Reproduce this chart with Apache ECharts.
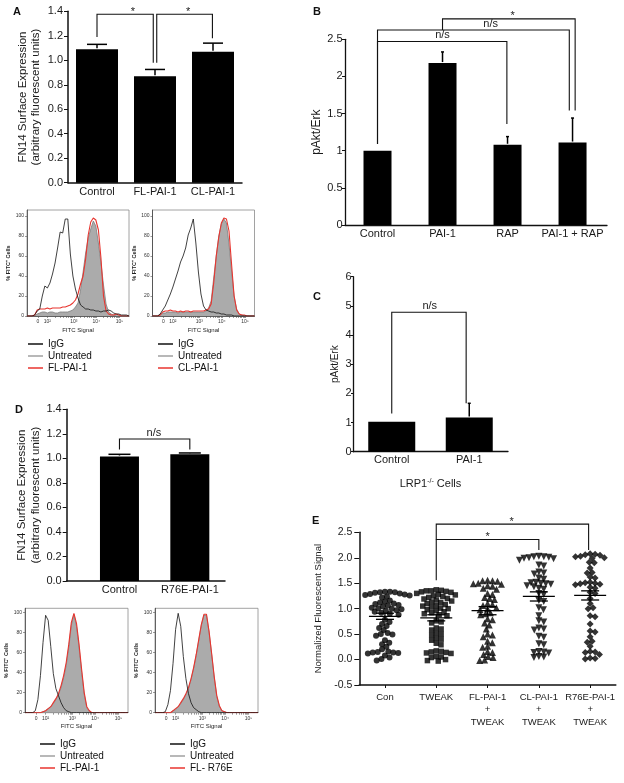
<!DOCTYPE html>
<html>
<head>
<meta charset="utf-8">
<title>FN14 surface expression / pAkt figure</title>
<script src="https://cdn.jsdelivr.net/npm/echarts@6/dist/echarts.min.js"></script>
<style>
  html, body { margin: 0; padding: 0; background: #fff; }
  #chart { width: 624px; height: 783px; }
</style>
</head>
<body>
<div id="chart"></div>
<script>
const FONT = '"Liberation Sans", Arial, sans-serif';
const INK = '#111';

// ---- panel A: FN14 bars ----
const aCats = ['Control', 'FL-PAI-1', 'CL-PAI-1'];
const aMeans = [1.09, 0.87, 1.07];
const aErrs = [0.04, 0.055, 0.07];
// [x1, x2, top, leftEnd, rightEnd, label, labelX]
const aSig = [[0, 0.97, 1.376, 1.19, 0.98, '*', 0.62], [1.03, 1.99, 1.376, 0.98, 1.18, '*', 1.57]];

// ---- panel B: pAkt/Erk ----
const bCats = ['Control', 'PAI-1', 'RAP', 'PAI-1 + RAP'];
const bMeans = [1.0, 2.18, 1.08, 1.11];
const bErrs = [0, 0.15, 0.11, 0.33];
const bSig = [[0, 1.99, 2.47, 1.09, 1.36, 'n/s', 1.0], [0, 2.95, 2.625, 1.09, 1.54, 'n/s', 1.74], [1, 3.04, 2.775, 2.625, 1.54, '*', 2.08]];

// ---- panel C: LRP1-/- cells ----
const cCats = ['Control', 'PAI-1'];
const cMeans = [1.03, 1.17];
const cErrs = [0, 0.49];
const cSig = [[0, 0.96, 4.78, 1.31, 1.66, 'n/s', 0.49]];

// ---- panel D: R76E ----
const dCats = ['Control', 'R76E-PAI-1'];
const dMeans = [1.015, 1.033];
const dErrs = [0.018, 0.011];
const dSig = [[0, 1, 1.158, 1.073, 1.073, 'n/s', 0.49]];

// ---- panel E: scatter ----
const eCats = ['Con', 'TWEAK', 'FL-PAI-1\n+\nTWEAK', 'CL-PAI-1\n+\nTWEAK', 'R76E-PAI-1\n+\nTWEAK'];
const eMeans = [0.85, 0.82, 0.96, 1.24, 1.26];
const eSems = [0.06, 0.06, 0.08, 0.09, 0.09];
const eSig = [[1, 3, 2.36, 1.56, 2.15, '*', 2.0], [1, 3.97, 2.66, 2.36, 2.15, '*', 2.47]];
const conVals = [1.33, 1.33, 1.32, 1.32, 1.31, 1.30, 1.29, 1.28, 1.27, 1.26, 1.24, 1.22,
  1.16, 1.14, 1.12, 1.10, 1.09, 1.07, 1.06, 1.04, 1.02, 1.01, 1.00, 0.99, 0.97, 0.96, 0.94, 0.92, 0.90, 0.88,
  0.78, 0.74, 0.70, 0.66, 0.62, 0.58, 0.52, 0.50, 0.49, 0.47, 0.38, 0.33, 0.30, 0.25, 0.20,
  0.16, 0.15, 0.14, 0.14, 0.13, 0.12, 0.08, 0.04, 0.01, -0.02];
const tweakVals = [1.37, 1.36, 1.35, 1.35, 1.34, 1.33, 1.32, 1.30, 1.28, 1.27, 1.25, 1.24, 1.22, 1.20, 1.19, 1.17,
  1.15, 1.13, 1.12, 1.10, 1.08, 1.06, 1.05, 1.03, 1.01, 1.00, 0.98, 0.96, 0.94, 0.92, 0.90, 0.88, 0.86,
  0.76, 0.74, 0.72, 0.62, 0.60, 0.58, 0.52, 0.50, 0.48, 0.42, 0.40, 0.38, 0.32, 0.29,
  0.17, 0.16, 0.15, 0.14, 0.13, 0.12, 0.06, 0.05, 0.04, 0.00, -0.02, -0.03];
const flVals = [1.56, 1.55, 1.55, 1.54, 1.50, 1.49, 1.48, 1.45, 1.44, 1.40, 1.38, 1.30, 1.28, 1.22, 1.20, 1.18,
  1.10, 1.08, 1.06, 1.02, 1.00, 0.98, 0.92, 0.90, 0.88, 0.80, 0.78, 0.72, 0.68, 0.60, 0.50, 0.48, 0.45,
  0.36, 0.33, 0.26, 0.24, 0.16, 0.14, 0.10, 0.06, 0.04, -0.01, -0.02];
const clVals = [2.03, 2.02, 2.02, 2.01, 2.00, 1.99, 1.98, 1.95, 1.86, 1.84, 1.72, 1.70, 1.68, 1.60, 1.58, 1.52,
  1.51, 1.50, 1.49, 1.48, 1.45, 1.43, 1.40, 1.38, 1.30, 1.28, 1.16, 1.14, 1.02, 0.98, 0.86, 0.76, 0.74,
  0.62, 0.60, 0.58, 0.46, 0.44, 0.31, 0.29, 0.16, 0.15, 0.14, 0.13, 0.06, 0.05, 0.04];
const r76Vals = [2.08, 2.07, 2.06, 2.05, 2.03, 2.02, 2.00, 1.99, 1.91, 1.90, 1.80, 1.71, 1.70, 1.62, 1.60, 1.52,
  1.51, 1.50, 1.49, 1.48, 1.47, 1.42, 1.40, 1.32, 1.30, 1.20, 1.10, 1.02, 1.00, 0.86, 0.84, 0.70, 0.56,
  0.54, 0.45, 0.36, 0.34, 0.26, 0.16, 0.15, 0.14, 0.10, 0.03, 0.02, 0.01];

// ---- flow histograms (channel bins 0..1000, % of max) ----
const histBins = [0, 25, 50, 75, 100, 125, 150, 175, 200, 225, 250, 275, 300, 325, 350, 375, 400, 425, 450, 475,
  500, 525, 550, 575, 600, 625, 650, 675, 700, 725, 750, 775, 800, 825, 850, 875, 900, 925, 950, 975, 1000];
const histTickPos = [107, 200, 460, 680, 908];
const histTickText = ['0', '10²', '10³', '10⁴', '10⁵'];
const histYTicks = [0, 20, 40, 60, 80, 100];

const aL_igg = [0, 0, 0, 1, 5, 7, 20, 30, 28, 33, 42, 53, 68, 84, 83, 97, 97, 62, 40, 27, 18, 11, 9, 7, 7, 6, 6, 5, 5, 4, 5, 5, 6, 5, 3, 2, 2, 1, 1, 1, 0];
const aL_unt = [0, 0, 0, 0, 2, 3, 4, 4, 3, 4, 4, 3, 3, 4, 4, 4, 4, 5, 6, 9, 13, 26, 44, 63, 78, 87, 95, 90, 73, 53, 31, 12, 4, 2, 1, 0, 0, 0, 0, 0, 0];
const aL_fl = [0, 0, 0, 1, 6, 7, 7, 7, 8, 7, 8, 8, 8, 8, 9, 9, 10, 11, 13, 16, 22, 32, 40, 57, 81, 94, 98, 96, 86, 58, 20, 5, 2, 1, 1, 2, 1, 0, 0, 0, 0];
const aR_igg = [0, 0, 0, 2, 6, 10, 16, 22, 29, 37, 45, 54, 60, 68, 81, 88, 97, 73, 44, 22, 10, 6, 5, 4, 4, 3, 3, 2, 2, 1, 1, 1, 0, 0, 0, 0, 0, 0, 0, 0, 0];
const aR_unt = [0, 0, 0, 1, 3, 3, 4, 4, 4, 4, 3, 4, 4, 4, 4, 4, 4, 4, 4, 4, 4, 5, 8, 15, 38, 60, 80, 92, 97, 93, 72, 45, 20, 7, 2, 1, 0, 0, 0, 0, 0];
const aR_cl = [0, 0, 0, 1, 4, 5, 5, 6, 5, 5, 4, 5, 4, 5, 5, 4, 5, 5, 5, 5, 5, 6, 7, 12, 33, 60, 79, 93, 98, 97, 85, 52, 20, 6, 2, 1, 1, 0, 0, 0, 0];
const dL_igg = [0, 0, 0, 0, 2, 13, 37, 70, 97, 92, 66, 39, 24, 17, 10, 5, 2, 1, 0, 0, 0, 0, 0, 0, 0, 0, 0, 0, 0, 0, 0, 0, 0, 0, 0, 0, 0, 0, 0, 0, 0];
const dL_unt = [0, 0, 0, 0, 0, 0, 0, 1, 2, 4, 6, 9, 13, 18, 25, 35, 47, 65, 87, 98, 86, 65, 40, 18, 5, 1, 0, 0, 0, 0, 0, 0, 0, 0, 0, 0, 0, 0, 0, 0, 0];
const dL_fl = [0, 0, 0, 0, 0, 0, 0, 1, 2, 4, 6, 10, 14, 19, 27, 37, 50, 68, 90, 99, 89, 68, 43, 20, 6, 2, 0, 0, 0, 0, 0, 0, 0, 0, 0, 0, 0, 0, 0, 0, 0];
const dR_igg = [0, 0, 0, 0, 1, 8, 22, 49, 83, 99, 86, 56, 34, 19, 10, 5, 3, 1, 0, 0, 0, 0, 0, 0, 0, 0, 0, 0, 0, 0, 0, 0, 0, 0, 0, 0, 0, 0, 0, 0, 0];
const dR_unt = [0, 0, 0, 0, 0, 0, 0, 2, 3, 6, 9, 13, 18, 24, 33, 44, 57, 72, 87, 97, 97, 80, 58, 35, 16, 6, 2, 1, 0, 0, 0, 0, 0, 0, 0, 0, 0, 0, 0, 0, 0];
const dR_fl = [0, 0, 0, 0, 0, 0, 0, 2, 4, 6, 10, 14, 19, 25, 34, 45, 58, 73, 88, 98, 98, 81, 59, 36, 17, 7, 2, 1, 0, 0, 0, 0, 0, 0, 0, 0, 0, 0, 0, 0, 0];

const option = {
  animation: false,
  backgroundColor: '#fff',
  textStyle: { fontFamily: FONT },
  grid: [], xAxis: [], yAxis: [], series: [], legend: [], graphic: []
};

function addGrid(box) {
  option.grid.push(Object.assign({ containLabel: false, outerBoundsMode: 'none' }, box));
  return option.grid.length - 1;
}

// upper error whisker with cap
function errorSeries(xi, yi, means, errs, capW, lw) {
  return {
    type: 'custom', xAxisIndex: xi, yAxisIndex: yi, z: 3,
    data: means.map((m, i) => [i, m, m + errs[i]]),
    encode: { x: 0, y: [1, 2] },
    renderItem: function (params, api) {
      if (api.value(2) <= api.value(1)) return null;
      const p0 = api.coord([api.value(0), api.value(1)]);
      const p1 = api.coord([api.value(0), api.value(2)]);
      const st = { stroke: '#000', lineWidth: lw };
      return { type: 'group', children: [
        { type: 'line', shape: { x1: p0[0], y1: p0[1] - 1, x2: p1[0], y2: p1[1] }, style: st },
        { type: 'line', shape: { x1: p1[0] - capW / 2, y1: p1[1], x2: p1[0] + capW / 2, y2: p1[1] }, style: st }
      ] };
    }
  };
}

// significance brackets
function bracketSeries(xi, yi, list, fontSize) {
  return {
    type: 'custom', xAxisIndex: xi, yAxisIndex: yi, z: 4, clip: false,
    data: list.map(b => [b[0], b[2]]),
    encode: { x: 0, y: 1 },
    renderItem: function (params, api) {
      const b = list[params.dataIndex];
      const pts = [api.coord([b[0], b[3]]), api.coord([b[0], b[2]]), api.coord([b[1], b[2]]), api.coord([b[1], b[4]])];
      const lp = api.coord([b[6], b[2]]);
      const star = b[5] === '*';
      return { type: 'group', children: [
        { type: 'polyline', shape: { points: pts }, style: { stroke: INK, lineWidth: 1.1, fill: null } },
        {
          type: 'text', x: lp[0], y: star ? lp[1] - 2.5 : lp[1] - 1,
          style: { text: b[5], fontSize: fontSize, fontFamily: FONT, fill: '#222', align: 'center', verticalAlign: star ? 'middle' : 'bottom' }
        }
      ] };
    }
  };
}

function barPanel(cfg) {
  const g = addGrid(cfg.box);
  const xi = option.xAxis.length, yi = option.yAxis.length;
  option.xAxis.push({
    type: 'value', gridIndex: g, min: cfg.xMin, max: cfg.xMax,
    axisLine: { onZero: false, lineStyle: { color: INK, width: cfg.axisW } },
    splitLine: { show: false },
    axisTick: cfg.xTick ? { customValues: cfg.cats.map((c, i) => i), length: 3, lineStyle: { color: INK, width: 1 } } : { show: false },
    axisLabel: {
      customValues: cfg.cats.map((c, i) => i), formatter: v => cfg.cats[Math.round(v)],
      color: '#1a1a1a', fontSize: cfg.catFont, margin: cfg.catMargin, lineHeight: cfg.catLine || cfg.catFont + 2
    },
    name: cfg.xName || '', nameLocation: 'middle', nameGap: cfg.xNameGap || 20,
    nameTextStyle: { fontSize: 11, color: '#1a1a1a', rich: { sup: { fontSize: 7, padding: [0, 0, 5, 0] } } }
  });
  option.yAxis.push({
    type: 'value', gridIndex: g, min: cfg.yMin, max: cfg.yMax, interval: cfg.yStep,
    axisLine: { show: true, onZero: false, lineStyle: { color: INK, width: cfg.axisW } },
    splitLine: { show: false },
    axisTick: { show: true, length: cfg.tickLen, lineStyle: { color: INK, width: 1 } },
    axisLabel: { color: '#1a1a1a', fontSize: cfg.tickFont, margin: cfg.tickMargin, formatter: cfg.yFmt },
    name: cfg.yName, nameLocation: 'middle', nameGap: cfg.yNameGap,
    nameTextStyle: { fontSize: cfg.yNameFont, color: '#1a1a1a', lineHeight: cfg.yNameFont + 2 }
  });
  if (cfg.means) {
    option.series.push({
      name: cfg.id + ' bars', type: 'bar', xAxisIndex: xi, yAxisIndex: yi, barWidth: cfg.barWidth,
      itemStyle: { color: '#000' }, data: cfg.means.map((v, i) => [i, v])
    });
    option.series.push(errorSeries(xi, yi, cfg.means, cfg.errs, cfg.capW, cfg.errW));
  }
  option.series.push(bracketSeries(xi, yi, cfg.sig, cfg.sigFont));
  return { xi: xi, yi: yi };
}

const decadePos = [200, 460, 680, 908];
const histTicks = histTickPos.slice();
for (let d = 0; d < 3; d++) {
  for (let k = 2; k <= 9; k++) histTicks.push(decadePos[d] + Math.log10(k) * (decadePos[d + 1] - decadePos[d]));
}

function histPanel(box, yMax, igg, unt, test, testName, legendPos) {
  const g = addGrid(Object.assign({ show: true, borderColor: '#8a8a8a', borderWidth: 0.8 }, box));
  const xi = option.xAxis.length, yi = option.yAxis.length;
  option.xAxis.push({
    type: 'value', gridIndex: g, min: 0, max: 1000,
    axisLine: { onZero: false, lineStyle: { color: '#444', width: 0.8 } },
    splitLine: { show: false },
    axisTick: { customValues: histTicks, length: 2, lineStyle: { color: '#555', width: 0.6 } },
    axisLabel: { customValues: histTickPos, formatter: v => histTickText[histTickPos.indexOf(v)], fontSize: 5, color: '#333', margin: 3 },
    name: 'FITC Signal', nameLocation: 'middle', nameGap: 11, nameTextStyle: { fontSize: 6, color: '#222' }
  });
  option.yAxis.push({
    type: 'value', gridIndex: g, min: 0, max: yMax,
    axisLine: { show: true, onZero: false, lineStyle: { color: '#444', width: 0.8 } },
    splitLine: { show: false },
    axisTick: { customValues: histYTicks, length: 2, lineStyle: { color: '#555', width: 0.6 } },
    axisLabel: { customValues: histYTicks, fontSize: 5, color: '#333', margin: 3 },
    name: '% FITC⁺ Cells', nameLocation: 'middle', nameGap: 12,
    nameTextStyle: { fontSize: 5.5, fontWeight: 'bold', color: '#222' }
  });
  const mk = arr => histBins.map((x, i) => [x, arr[i]]);
  option.series.push({
    name: 'Untreated', type: 'line', xAxisIndex: xi, yAxisIndex: yi, data: mk(unt), symbol: 'none', z: 2,
    color: '#a0a0a0', lineStyle: { color: '#7d7d7d', width: 0.8 }, areaStyle: { color: '#ababab', opacity: 1 }
  });
  option.series.push({
    name: testName, type: 'line', xAxisIndex: xi, yAxisIndex: yi, data: mk(test), symbol: 'none', z: 3,
    color: '#e8352f', lineStyle: { width: 1.1 }
  });
  option.series.push({
    name: 'IgG', type: 'line', xAxisIndex: xi, yAxisIndex: yi, data: mk(igg), symbol: 'none', z: 4,
    color: '#111', lineStyle: { width: 0.8 }
  });
  option.legend.push({
    data: ['IgG', 'Untreated', testName], left: legendPos[0], top: legendPos[1], orient: 'vertical',
    icon: 'rect', itemWidth: 15, itemHeight: 1.5, itemGap: 2, padding: 0, selectedMode: false,
    textStyle: { fontSize: 10, color: '#111', fontFamily: FONT }
  });
}

// ---- build panels ----
const common = { axisW: 1.5, tickLen: 4, tickFont: 11, catFont: 11, sigFont: 11, errW: 1.5 };

barPanel(Object.assign({}, common, {
  id: 'A', box: { left: 68, top: 11.3, width: 174, height: 171.4 },
  cats: aCats, means: aMeans, errs: aErrs, sig: aSig, xMin: -0.5, xMax: 2.5,
  yMin: 0, yMax: 1.4, yStep: 0.2, yFmt: v => v.toFixed(1), tickMargin: 5, catMargin: 3,
  yName: 'FN14 Surface Expression\n(arbitrary fluorescent units)', yNameGap: 25, yNameFont: 11.5,
  barWidth: 42, capW: 20
}));

barPanel(Object.assign({}, common, {
  id: 'B', box: { left: 345, top: 39.3, width: 262, height: 185.7 },
  cats: bCats, means: bMeans, errs: bErrs, sig: bSig, xMin: -0.5, xMax: 3.53,
  yMin: 0, yMax: 2.5, yStep: 0.5, tickLen: 3, tickMargin: 2.5, catMargin: 2, axisW: 1.3,
  yName: 'pAkt/Erk', yNameGap: 12, yNameFont: 12, barWidth: 28, capW: 3
}));

barPanel(Object.assign({}, common, {
  id: 'C', box: { left: 353, top: 276.7, width: 155, height: 175 },
  cats: cCats, means: cMeans, errs: cErrs, sig: cSig, xMin: -0.5, xMax: 1.5,
  yMin: 0, yMax: 6, yStep: 1, tickLen: 2, tickMargin: 1.5, catMargin: 2, axisW: 1.3,
  yName: 'pAkt/Erk', yNameGap: 12, yNameFont: 10, barWidth: 47, capW: 3,
  xName: 'LRP1{sup|-/-} Cells', xNameGap: 26
}));

barPanel(Object.assign({}, common, {
  id: 'D', box: { left: 66.7, top: 409.3, width: 158.3, height: 171.7 },
  cats: dCats, means: dMeans, errs: dErrs, sig: dSig, xMin: -0.75, xMax: 1.5,
  yMin: 0, yMax: 1.4, yStep: 0.2, yFmt: v => v.toFixed(1), tickMargin: 5, catMargin: 2,
  yName: 'FN14 Surface Expression\n(arbitrary fluorescent units)', yNameGap: 24, yNameFont: 11.5,
  barWidth: 39, capW: 22
}));

const eAx = barPanel(Object.assign({}, common, {
  id: 'E', box: { left: 359.3, top: 532.3, width: 256.5, height: 152.7 },
  cats: eCats, sig: eSig, xMin: -0.5, xMax: 4.5, xTick: true,
  yMin: -0.5, yMax: 2.5, yStep: 0.5, yFmt: v => v.toFixed(1), tickLen: 5, tickMargin: 7, tickFont: 10.5,
  catFont: 9.5, catLine: 12.5, catMargin: 6, sigFont: 11,
  yName: 'Normalized Fluorescent Signal', yNameGap: 35, yNameFont: 9.5
}));

// beeswarm spread of each column, done in pixel units of the E grid
function swarm(vals, cat, pxPerCat, pxPerVal, d) {
  const placed = [];
  vals.slice().sort((a, b) => b - a).forEach(v => {
    const y = v * pxPerVal;
    const cands = [0];
    placed.forEach(p => {
      const dy = Math.abs(p.y - y);
      if (dy < d) {
        const dx = Math.sqrt(d * d - dy * dy);
        cands.push(p.x + dx, p.x - dx);
      }
    });
    cands.sort((a, b) => Math.abs(a) - Math.abs(b));
    const x = cands.find(c => placed.every(p => (p.x - c) * (p.x - c) + (p.y - y) * (p.y - y) >= d * d - 0.01));
    placed.push({ x: x, y: y });
  });
  return placed.map(p => [cat + p.x / pxPerCat, p.y / pxPerVal]);
}

const eGroups = [conVals, tweakVals, flVals, clVals, r76Vals];
const eSymbols = ['circle', 'rect', 'triangle', 'triangle', 'diamond'];
const eRotate = [0, 0, 0, 180, 0];
const eSizes = [6, 5.5, 7, 7, 7];
eGroups.forEach((vals, i) => {
  option.series.push({
    name: eCats[i].replace(/\n/g, ' '), type: 'scatter', xAxisIndex: eAx.xi, yAxisIndex: eAx.yi,
    data: swarm(vals, i, 51.3, 50.9, 5.0), symbol: eSymbols[i], symbolRotate: eRotate[i],
    symbolSize: eSizes[i], itemStyle: { color: '#000' }, z: 2
  });
});

// mean +/- SEM lines
option.series.push({
  type: 'custom', xAxisIndex: eAx.xi, yAxisIndex: eAx.yi, z: 5,
  data: eMeans.map((m, i) => [i, m, eSems[i]]),
  encode: { x: 0, y: 1 },
  renderItem: function (params, api) {
    const x = api.value(0), m = api.value(1), s = api.value(2);
    const pm = api.coord([x, m]), ph = api.coord([x, m + s]), pl = api.coord([x, m - s]);
    const st = { stroke: '#000', lineWidth: 1.3 };
    return { type: 'group', children: [
      { type: 'line', shape: { x1: pm[0] - 16, y1: pm[1], x2: pm[0] + 16, y2: pm[1] }, style: st },
      { type: 'line', shape: { x1: ph[0] - 9, y1: ph[1], x2: ph[0] + 9, y2: ph[1] }, style: st },
      { type: 'line', shape: { x1: pl[0] - 9, y1: pl[1], x2: pl[0] + 9, y2: pl[1] }, style: st },
      { type: 'line', shape: { x1: ph[0], y1: ph[1], x2: pl[0], y2: pl[1] }, style: st }
    ] };
  }
});

// flow histograms
histPanel({ left: 27, top: 210, width: 102, height: 106 }, 106, aL_igg, aL_unt, aL_fl, 'FL-PAI-1', [28, 339]);
histPanel({ left: 152.5, top: 210, width: 102, height: 106 }, 106, aR_igg, aR_unt, aR_cl, 'CL-PAI-1', [158, 339]);
histPanel({ left: 25, top: 608.3, width: 103, height: 104.4 }, 104, dL_igg, dL_unt, dL_fl, 'FL-PAI-1', [40, 739]);
histPanel({ left: 155, top: 608.3, width: 103, height: 104.4 }, 104, dR_igg, dR_unt, dR_fl, 'FL- R76E', [170, 739]);

// panel letters
[['A', 13, 6], ['B', 313, 6], ['C', 313, 291], ['D', 15, 404], ['E', 312, 515]].forEach(l => {
  option.graphic.push({ type: 'text', left: l[1], top: l[2], style: { text: l[0], font: 'bold 11px ' + FONT, fill: '#111' } });
});

const chart = echarts.init(document.getElementById('chart'), null, { renderer: 'canvas' });
chart.setOption(option);
</script>
</body>
</html>
